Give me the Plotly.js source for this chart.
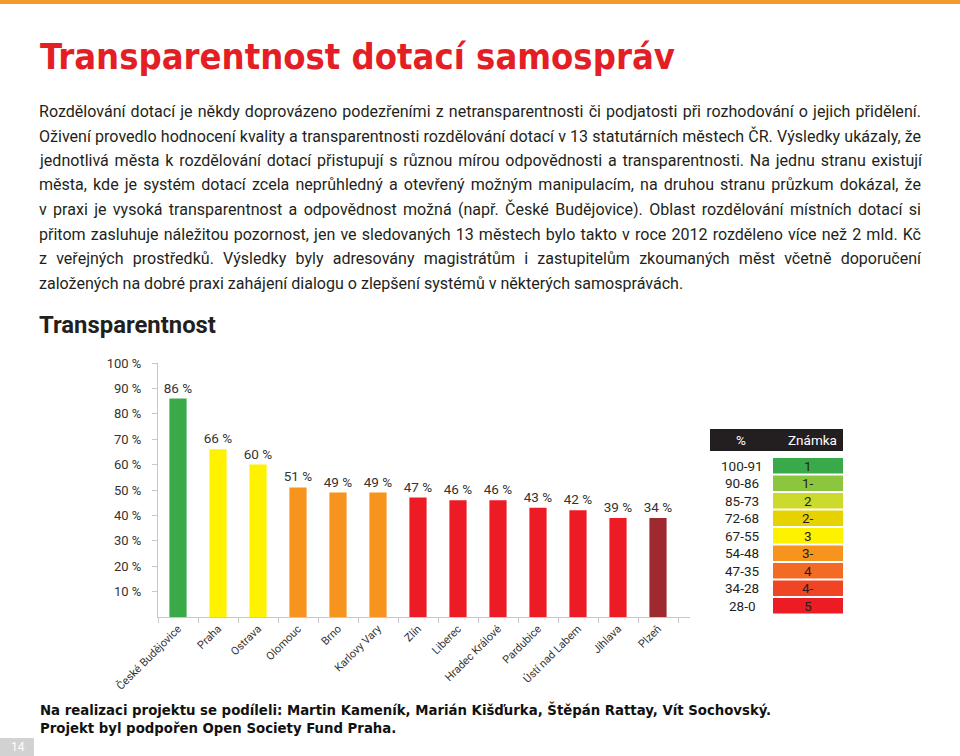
<!DOCTYPE html>
<html><head><meta charset="utf-8">
<script src="https://cdn.plot.ly/plotly-3.0.1.min.js"></script>
<style>html,body{margin:0;padding:0;background:#fff}#chart{width:960px;height:756px}</style>
</head><body><div id="chart"></div>
<script>
// ---------------- DATA ----------------
const cities = ["České Budějovice","Praha","Ostrava","Olomouc","Brno","Karlovy Vary","Zlín","Liberec","Hradec Králové","Pardubice","Ústí nad Labem","Jihlava","Plzeň"];
const barHeights = [86,66,60,51,49,49,47,46,46,43,42,39,39];
const valueLabels = ["86 %","66 %","60 %","51 %","49 %","49 %","47 %","46 %","46 %","43 %","42 %","39 %","34 %"];
const barColors = ["#3aaa48","#fff200","#fff200","#f7941d","#f7941d","#f7941d","#ed1c24","#ed1c24","#ed1c24","#ed1c24","#ed1c24","#ed1c24","#9e2a2f"];
const yTickValues = [10,20,30,40,50,60,70,80,90,100];
const yTickLabels = ["10 %","20 %","30 %","40 %","50 %","60 %","70 %","80 %","90 %","100 %"];
const tableHeader = ["%","Známka"];
const gradeRanges = ["100-91","90-86","85-73","72-68","67-55","54-48","47-35","34-28","28-0"];
const grades = ["1","1-","2","2-","3","3-","4","4-","5"];
const gradeColors = ["#3aa94a","#8cc63f","#cbda2c","#e6d200","#fff200","#f7941d","#f26a23","#ef4524","#ed1c24"];
const titleText = "Transparentnost dotací samospráv";
const paragraphLines = [
 "Rozdělování dotací je někdy doprovázeno podezřeními z netransparentnosti či podjatosti při rozhodování o jejich přidělení.",
 "Oživení provedlo hodnocení kvality a transparentnosti rozdělování dotací v 13 statutárních městech ČR. Výsledky ukázaly, že",
 "jednotlivá města k rozdělování dotací přistupují s různou mírou odpovědnosti a transparentnosti. Na jednu stranu existují",
 "města, kde je systém dotací zcela neprůhledný a otevřený možným manipulacím, na druhou stranu průzkum dokázal, že",
 "v praxi je vysoká transparentnost a odpovědnost možná (např. České Budějovice). Oblast rozdělování místních dotací si",
 "přitom zasluhuje náležitou pozornost, jen ve sledovaných 13 městech bylo takto v roce 2012 rozděleno více než 2 mld. Kč",
 "z veřejných prostředků. Výsledky byly adresovány magistrátům i zastupitelům zkoumaných měst včetně doporučení",
 "založených na dobré praxi zahájení dialogu o zlepšení systémů v některých samosprávách."
];
const chartHeading = "Transparentnost";
const footerLines = [
 "Na realizaci projektu se podíleli: Martin Kameník, Marián Kišďurka, Štěpán Rattay, Vít Sochovský.",
 "Projekt byl podpořen Open Society Fund Praha."
];
const pageNumber = "14";

// ---------------- LAYOUT HELPERS ----------------
const W = 960, H = 756;
const px = x => x / W;
const py = y => 1 - y / H;
const cv = document.createElement('canvas').getContext('2d');
function tw(text, size, family, weight) {
  cv.font = (weight || 'normal') + ' ' + size + 'px ' + family;
  return cv.measureText(text).width;
}
function has(f) {
  const s = 'abcdefghijklmnopqrstuvwxyz ŠČŽ 0123';
  cv.font = '40px monospace'; const a = cv.measureText(s).width;
  cv.font = '40px "' + f + '", monospace'; const b = cv.measureText(s).width;
  return a !== b;
}
const BODY = 'Roboto';
let COND = 'Roboto';
for (const f of ['Liberation Sans Narrow', 'DejaVu Sans Condensed', 'Roboto Condensed']) {
  if (has(f)) { COND = '"' + f + '"'; break; }
}
const TEXT = '#231f20';

// body text sizing: last (ragged) line spans 38..683
const bodySize = 15 * 645 / tw(paragraphLines[7], 15, BODY);
const justifyW = 882;

const annotations = [];
const shapes = [];

function ann(text, x, y, size, family, color, extra) {
  annotations.push(Object.assign({
    text: text, x: px(x), y: py(y), xref: 'paper', yref: 'paper',
    xanchor: 'left', yanchor: 'middle', showarrow: false,
    font: {size: size, family: family, color: color}
  }, extra || {}));
}

// title (bold condensed)
const titleSize = Math.min(44, 40 * 635 / tw(titleText, 40, COND, 'bold'));
ann('<b>' + titleText + '</b>', 38, 57, titleSize, COND, '#e31e24');

// paragraph
paragraphLines.forEach((line, i) => {
  let t = line;
  if (i < paragraphLines.length - 1) {
    const nat = tw(line, bodySize, BODY);
    const spaces = line.split(' ').length - 1;
    const ws = (justifyW - nat) / spaces;
    t = '<span style="word-spacing:' + ws.toFixed(2) + 'px">' + line + '</span>';
  }
  ann(t, 37, 111 + i * 24.6, bodySize, BODY, TEXT);
});

// chart heading
const headSize = 20 * 177 / tw(chartHeading, 20, BODY, 'bold');
ann('<b>' + chartHeading + '</b>', 37, 325, headSize, BODY, TEXT);

// footer
const footSize = 15 * 732 / tw(footerLines[0], 15, COND, 'bold');
footerLines.forEach((l, i) => ann('<b>' + l + '</b>', 38, 709 + i * 18.5, footSize, COND, '#111'));

// top orange rule
shapes.push({type: 'rect', xref: 'paper', yref: 'paper', x0: 0, x1: 1, y0: py(4), y1: 1, fillcolor: '#f39a2e', line: {width: 0}});
// page number box
shapes.push({type: 'rect', xref: 'paper', yref: 'paper', x0: 0, x1: px(34), y0: py(756), y1: py(738), fillcolor: '#d2d2d2', line: {width: 0}});
annotations.push({text: pageNumber, x: px(18), y: py(747), xref: 'paper', yref: 'paper', xanchor: 'center', yanchor: 'middle', showarrow: false, font: {size: 12, family: BODY, color: '#fff'}});

// grade table
const tL = 710, tR = 843, tMid = 773;
shapes.push({type: 'rect', xref: 'paper', yref: 'paper', x0: px(tL), x1: px(tR), y0: py(451), y1: py(429), fillcolor: '#231f20', line: {width: 0}});
[[741, tableHeader[0]], [812, tableHeader[1]]].forEach(([x, t]) => annotations.push({
  text: t, x: px(x), y: py(440), xref: 'paper', yref: 'paper', xanchor: 'center', yanchor: 'middle', showarrow: false,
  font: {size: 13.5, family: BODY, color: '#fff'}}));
const rowTop = 458, rowPitch = 17.5, rowH = 15.5;
gradeRanges.forEach((r, i) => {
  const y0 = rowTop + i * rowPitch, yc = y0 + rowH / 2;
  shapes.push({type: 'rect', xref: 'paper', yref: 'paper', x0: px(tMid), x1: px(tR), y0: py(y0 + rowH), y1: py(y0), fillcolor: gradeColors[i], line: {width: 0}});
  annotations.push({text: r, x: px(742), y: py(yc), xref: 'paper', yref: 'paper', xanchor: 'center', yanchor: 'middle', showarrow: false, font: {size: 13.5, family: BODY, color: TEXT}});
  annotations.push({text: grades[i], x: px(808), y: py(yc), xref: 'paper', yref: 'paper', xanchor: 'center', yanchor: 'middle', showarrow: false, font: {size: 13.5, family: BODY, color: TEXT}});
});

// ---------------- CHART ----------------
const trace = {
  type: 'bar', x: cities, y: barHeights,
  marker: {color: barColors, line: {width: 0}},
  width: 0.43,
  text: valueLabels, textposition: 'outside', constraintext: 'none', cliponaxis: false,
  textfont: {size: 13.5, family: BODY, color: '#333'},
  hoverinfo: 'skip'
};
const layout = {
  width: W, height: H, margin: {l: 0, r: 0, t: 0, b: 0},
  paper_bgcolor: '#fff', plot_bgcolor: 'rgba(0,0,0,0)',
  showlegend: false,
  xaxis: {
    type: 'category', domain: [px(158), px(690)], range: [-0.5, 12.8],
    showline: true, linecolor: '#c8c8c8', linewidth: 1,
    ticks: 'outside', tickson: 'boundaries', ticklen: 5, tickcolor: '#c8c8c8',
    tickangle: -45, tickfont: {size: 11, family: BODY, color: '#333'},
    showgrid: false, zeroline: false, fixedrange: true
  },
  yaxis: {
    domain: [py(617), py(363)], range: [0, 100],
    showline: true, linecolor: '#c8c8c8', linewidth: 1,
    ticks: 'outside', ticklen: 5, tickcolor: '#c8c8c8',
    tickvals: yTickValues, ticktext: yTickLabels, ticklabelstandoff: 8,
    tickfont: {size: 13, family: BODY, color: '#333'},
    showgrid: false, zeroline: false, fixedrange: true
  },
  annotations: annotations, shapes: shapes
};
Plotly.newPlot('chart', [trace], layout, {displayModeBar: false, staticPlot: true});
</script></body></html>
